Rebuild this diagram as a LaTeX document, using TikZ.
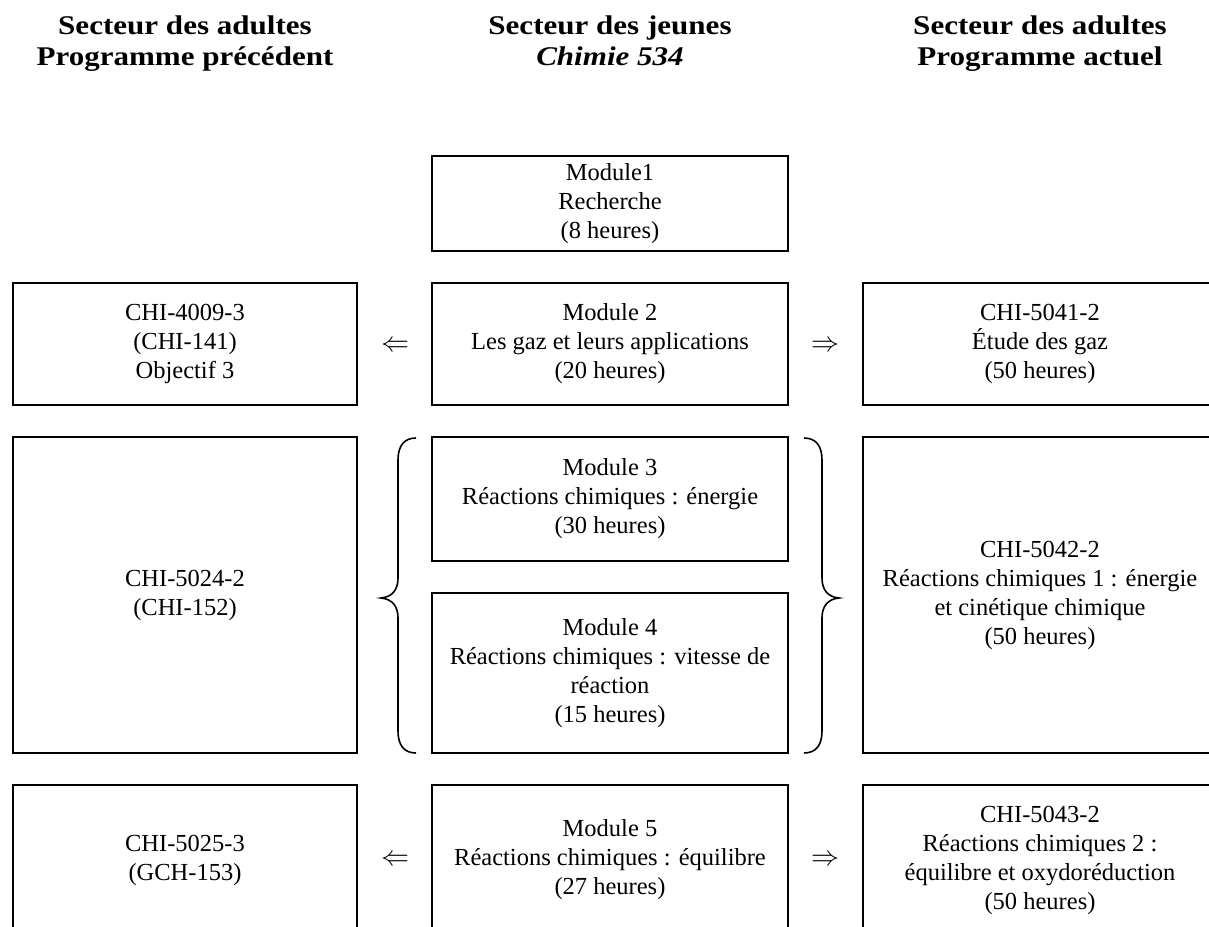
\documentclass[tikz,border=0pt]{standalone}
\usepackage{fix-cm}
\usepackage{fontspec}
\setmainfont{Liberation Serif}
\newfontfamily\headfont{Liberation Serif}[FakeStretch=1.15]
\begin{document}
\begin{tikzpicture}[x=1pt,y=-1pt,
  box/.style={draw, line width=2.5pt, align=center, inner sep=0pt, outer sep=0pt,
    font=\fontsize{24.5}{29}\selectfont},
  head/.style={align=center, inner sep=0pt, anchor=base, font=\headfont\bfseries\fontsize{27}{31}\selectfont},
  arr/.style={inner sep=0pt, font=\fontsize{28}{32}\selectfont},
  brace/.style={line width=1.6pt}]
\useasboundingbox (0,0) rectangle (1209,926);
\begin{scope}
\clip (0,0) rectangle (1209,926);
% headers
\node[head] (h1) at (185,65) {Secteur des adultes\\Programme précédent};
\node[head] (h2) at (610,65) {Secteur des jeunes\\\textit{Chimie 534}};
\node[head] (h3) at (1040,65) {Secteur des adultes\\Programme actuel};
% row 1
\node[box, minimum width=356, minimum height=95] (m1) at (610,203.5) {Module1\\Recherche\\(8 heures)};
% row 2
\node[box, minimum width=344, minimum height=122] (l2) at (185,344) {CHI-4009-3\\(CHI-141)\\Objectif 3};
\node[box, minimum width=356, minimum height=122] (m2) at (610,344) {Module 2\\Les gaz et leurs applications\\(20 heures)};
\node[box, minimum width=354, minimum height=122] (r2) at (1040,344) {CHI-5041-2\\Étude des gaz\\(50 heures)};
% row 3
\node[box, minimum width=344, minimum height=316] (l3) at (185,595) {CHI-5024-2\\(CHI-152)};
\node[box, minimum width=356, minimum height=124] (m3) at (610,499) {Module 3\\Réactions chimiques : énergie\\(30 heures)};
\node[box, minimum width=356, minimum height=160] (m4) at (610,673) {Module 4\\Réactions chimiques : vitesse de\\réaction\\(15 heures)};
\node[box, minimum width=354, minimum height=316] (r3) at (1040,595) {CHI-5042-2\\Réactions chimiques 1 : énergie\\et cinétique chimique\\(50 heures)};
% row 4
\node[box, minimum width=344, minimum height=150] (l4) at (185,860) {CHI-5025-3\\(GCH-153)};
\node[box, minimum width=356, minimum height=150] (m5) at (610,860) {Module 5\\Réactions chimiques : équilibre\\(27 heures)};
\node[box, minimum width=354, minimum height=150] (r5) at (1040,860) {CHI-5043-2\\Réactions chimiques 2 :\\équilibre et oxydoréduction\\(50 heures)};
\end{scope}
% arrows
\node[arr] (a1) at (395,346) {$\Leftarrow$};
\node[arr] (a2) at (825,346) {$\Rightarrow$};
\node[arr] (a3) at (395,860) {$\Leftarrow$};
\node[arr] (a4) at (825,860) {$\Rightarrow$};
% braces
\draw[brace] (416,438) .. controls (404,438) and (398,446) .. (398,460) -- (398,578)
  .. controls (398,590) and (392,597) .. (381,598)
  .. controls (392,599) and (398,606) .. (398,618) -- (398,731)
  .. controls (398,745) and (404,753) .. (416,753);
\draw[brace] (804,438) .. controls (816,438) and (822,446) .. (822,460) -- (822,578)
  .. controls (822,590) and (828,597) .. (839,598)
  .. controls (828,599) and (822,606) .. (822,618) -- (822,731)
  .. controls (822,745) and (816,753) .. (804,753);
\end{tikzpicture}
\end{document}
